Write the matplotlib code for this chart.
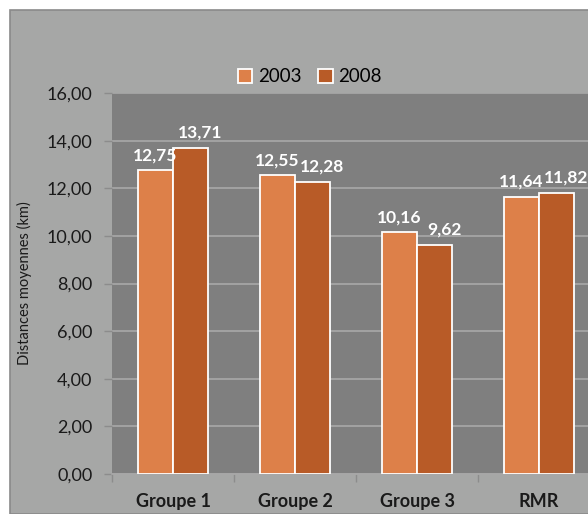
import matplotlib.pyplot as plt
import numpy as np
from matplotlib.patches import Rectangle

categories = ["Groupe 1", "Groupe 2", "Groupe 3", "RMR"]
v2003 = [12.75, 12.55, 10.16, 11.64]
v2008 = [13.71, 12.28, 9.62, 11.82]
yticks = [0, 2, 4, 6, 8, 10, 12, 14, 16]

plt.rcParams['font.family'] = ['Lato', 'DejaVu Sans']

fig = plt.figure(figsize=(5.88, 5.14), dpi=100)
fig.patch.set_facecolor('white')
# chart area (grey panel, cropped at right/bottom)
fig.patches.append(Rectangle((10/588, 0), 1, 1 - 10/514, transform=fig.transFigure,
                             facecolor='#a6a7a6', edgecolor='#8a8a8a', linewidth=1.2, zorder=-5))

ax = fig.add_axes([112/588, 40/514, 488/588, 381/514])
ax.set_zorder(2)
ax.set_facecolor('#7f7f7f')

x = np.arange(len(categories))
w = 0.29
b1 = ax.bar(x - w/2, v2003, w, color='#dd8049', edgecolor='white', linewidth=1.3, label='2003', zorder=3)
b2 = ax.bar(x + w/2, v2008, w, color='#b85b27', edgecolor='white', linewidth=1.3, label='2008', zorder=3)

# excel nudges the 2008 labels to the right so they don't collide
for bars, vals, dx in [(b1, v2003, 0), (b2, v2008, 7)]:
    for r, v in zip(bars, vals):
        ax.annotate(f"{v:.2f}".replace('.', ','), (r.get_x() + r.get_width()/2, v),
                    xytext=(dx, 5), textcoords='offset points', ha='center', va='bottom',
                    color='white', fontsize=12.5, fontweight='bold', zorder=4)

ax.set_xlim(-0.5, 3.5)
ax.set_ylim(0, 16)
ax.set_yticks(yticks)
ax.set_yticklabels([f"{t:.2f}".replace('.', ',') for t in yticks], fontsize=13, color='#1a1a1a')
ax.yaxis.grid(True, color='#a8a8a8', linewidth=1.2, zorder=1)
ax.set_axisbelow(True)

ax.set_xticks(x)
ax.set_xticklabels(categories, fontsize=13, fontweight='bold', color='#1a1a1a')
ax.set_xticks(np.arange(-0.5, 4, 1), minor=True)
ax.tick_params(axis='x', which='major', length=0, pad=14)
ax.tick_params(axis='x', which='minor', length=6, color='#8c8c8c', width=1)
ax.tick_params(axis='y', length=6, color='#8c8c8c', width=1, pad=8)

for s in ['top', 'right', 'left']:
    ax.spines[s].set_visible(False)
ax.spines['bottom'].set_color('#a8a8a8')
ax.spines['bottom'].set_linewidth(1.2)

ax.set_ylabel("Distances moyennes (km)", fontsize=10.5, color='#1a1a1a')
ax.yaxis.set_label_coords(-80/488, 0.5)

leg = fig.legend(handles=[b1, b2], loc='center', bbox_to_anchor=(310/588, 1 - 77/514),
                 ncol=2, frameon=False, fontsize=13.5, handlelength=0.75, handleheight=0.75,
                 handletextpad=0.3, columnspacing=0.9)

fig.savefig('out.png', dpi=100)
